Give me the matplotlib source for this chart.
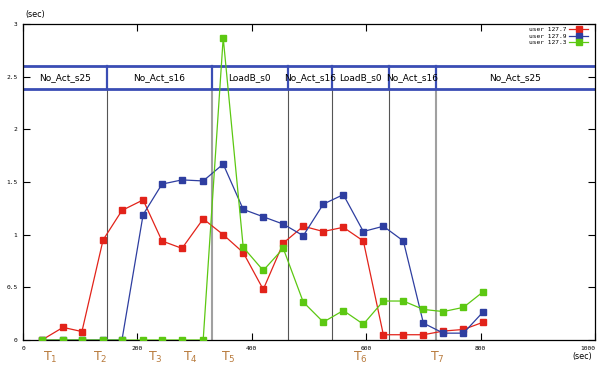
import matplotlib
matplotlib.use("Agg")
import matplotlib.pyplot as plt
import matplotlib.transforms as mtransforms

# sample times (sec)
t_red = [33, 70, 103, 140, 173, 210, 243, 278, 315, 350, 385, 420, 455, 490,
         525, 560, 595, 630, 665, 700, 735, 770, 805]
user_127_7 = [0, 0.12, 0.08, 0.95, 1.23, 1.33, 0.94, 0.87, 1.15, 1.0, 0.83, 0.48,
              0.92, 1.08, 1.03, 1.07, 0.94, 0.05, 0.05, 0.05, 0.085, 0.10, 0.17]

t_blue = t_red
user_127_9 = [0, 0, 0, 0, 0, 1.19, 1.48, 1.52, 1.51, 1.67, 1.24, 1.17, 1.10, 0.99,
              1.29, 1.38, 1.03, 1.08, 0.94, 0.16, 0.065, 0.065, 0.27]

t_green = t_red
user_127_3 = [0, 0, 0, 0, 0, 0, 0, 0, 0, 2.87, 0.88, 0.66, 0.87, 0.36, 0.17, 0.28,
              0.15, 0.37, 0.37, 0.29, 0.27, 0.31, 0.46]

# phases shown in the band
phase_edges = [0, 147, 330, 463, 540, 640, 722, 1000]
phase_names = ["No_Act_s25", "No_Act_s16", "LoadB_s0", "No_Act_s16",
               "LoadB_s0", "No_Act_s16", "No_Act_s25"]
light_edges = [330, 722]

t_marks = ["T$_1$", "T$_2$", "T$_3$", "T$_4$", "T$_5$", "T$_6$", "T$_7$"]
t_mark_x = [35, 122, 219, 280, 346, 577, 712]

W, H = 597, 366
fig = plt.figure(figsize=(W / 100, H / 100), dpi=100)
ax = fig.add_axes([23 / W, 26 / H, 572 / W, 316 / H])

band_lo, band_hi = 2.38, 2.605
band_col = "#3a4db4"

# phase boundary lines
for e in phase_edges[1:-1]:
    if e in light_edges:
        ax.plot([e, e], [0, band_lo], color="#a0a0a0", lw=1.5, zorder=1)
    else:
        ax.plot([e, e], [0, band_lo], color="#555555", lw=0.8, zorder=1)
    ax.plot([e, e], [band_lo, band_hi], color=band_col, lw=1.6, zorder=2)

ax.axhline(band_lo, color=band_col, lw=2, zorder=2)
ax.axhline(band_hi, color=band_col, lw=2, zorder=2)
for i, name in enumerate(phase_names):
    xc = (phase_edges[i] + phase_edges[i + 1]) / 2
    ax.text(xc, (band_lo + band_hi) / 2, name, ha="center", va="center",
            fontsize=6.5, family="DejaVu Sans", zorder=3)

ax.plot(t_red, user_127_7, color="#e2231a", marker="s", ms=4.3, lw=0.9,
        label="user 127.7", zorder=4)
ax.plot(t_blue, user_127_9, color="#2e3ea0", marker="s", ms=4.3, lw=0.9,
        label="user 127.9", zorder=5)
ax.plot(t_green, user_127_3, color="#5cc812", marker="s", ms=4.3, lw=0.9,
        label="user 127.3", zorder=6)

ax.set_xlim(0, 1000)
ax.set_ylim(0, 3)
ax.set_xticks([0, 200, 400, 600, 800, 1000])
ax.set_yticks([0, 0.5, 1, 1.5, 2, 2.5, 3])
ax.set_yticklabels(["0", "0.5", "1", "1.5", "2", "2.5", "3"])
ax.tick_params(direction="in", length=5, width=0.8, top=True, right=True,
               labelsize=4.5, pad=4)
for lab in ax.get_xticklabels() + ax.get_yticklabels():
    lab.set_family("DejaVu Sans Mono")
ax.get_xticklabels()[-1].set_ha("right")
for s in ax.spines.values():
    s.set_linewidth(0.9)

leg = ax.legend(loc="upper right", bbox_to_anchor=(588 / W, 1 - 27 / H),
                bbox_transform=fig.transFigure, frameon=False, markerfirst=False,
                handlelength=3.0, handletextpad=0.5, labelspacing=0.17,
                borderpad=0, borderaxespad=0,
                prop={"family": "DejaVu Sans Mono", "size": 4.5})

fig.text(25 / W, 1 - 14 / H, "(sec)", fontsize=5.8, va="center", ha="left")
fig.text(592 / W, 1 - 356 / H, "(sec)", fontsize=5.8, va="center", ha="right")

trans = mtransforms.blended_transform_factory(ax.transData, fig.transFigure)
for lab, xv in zip(t_marks, t_mark_x):
    ax.text(xv, 1 / H, lab, transform=trans, ha="left", va="bottom",
            fontsize=9, color="#b87a3c", clip_on=False)

fig.savefig("out.png", dpi=100)
